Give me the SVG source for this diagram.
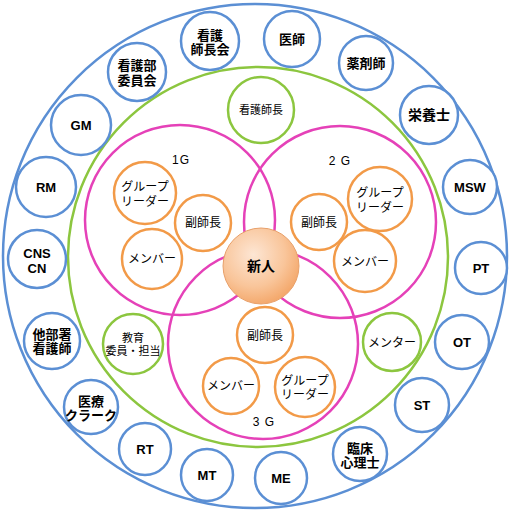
<svg xmlns="http://www.w3.org/2000/svg" width="512" height="512" viewBox="0 0 512 512">
<defs>
<radialGradient id="g" cx="0.4" cy="0.35" r="0.7">
<stop offset="0" stop-color="#FDE6D4"/>
<stop offset="0.6" stop-color="#F9C59A"/>
<stop offset="1" stop-color="#F3A465"/>
</radialGradient>
</defs>
<style>
text{font-family:"Liberation Sans","Noto Sans CJK JP",sans-serif;text-anchor:middle;fill:#000}
.b circle{fill:#fff;stroke:#5B8FD4;stroke-width:2.5}
.b text{font-weight:bold;font-size:13px}
.o circle{fill:#fff;stroke:#F29A48;stroke-width:2.5}
.o text{font-size:12px}
.gr circle{fill:#fff;stroke:#8CC63F;stroke-width:2.5}
.gr text{font-size:11px}
.ring{fill:none;stroke-width:2.5}
.lbl{font-size:12px;letter-spacing:1px}
</style>
<g id="rings">
<circle class="ring" cx="255" cy="256" r="252" stroke="#5B8FD4"/>
<circle class="ring" cx="258" cy="257" r="190" stroke="#8CC63F"/>
<circle class="ring" cx="180" cy="220" r="95" stroke="#E541B8"/>
<circle class="ring" cx="340" cy="222" r="96" stroke="#E541B8"/>
<circle class="ring" cx="263" cy="344" r="95" stroke="#E541B8"/>
</g>
<g id="labels">
<text class="lbl" x="181" y="164">1G</text>
<text class="lbl" x="340" y="165">2 G</text>
<text class="lbl" x="264" y="426">3 G</text>
</g>
<g id="connectors"></g>
<g class="b">
<g id="n-kangobu"><circle cx="137" cy="72" r="29"/><text x="137" y="70">看護部</text><text x="137" y="85">委員会</text></g>
<g id="n-shichokai"><circle cx="210" cy="41" r="29"/><text x="210" y="40">看護</text><text x="210" y="54">師長会</text></g>
<g id="n-ishi"><circle cx="292" cy="39" r="28"/><text x="292" y="44">医師</text></g>
<g id="n-yakuzai"><circle cx="366" cy="63" r="27"/><text x="366" y="68">薬剤師</text></g>
<g id="n-eiyo"><circle cx="429" cy="115" r="29"/><text x="429" y="120" style="font-size:14px">栄養士</text></g>
<g id="n-msw"><circle cx="470" cy="187" r="27"/><text x="470" y="192">MSW</text></g>
<g id="n-pt"><circle cx="481" cy="268" r="26"/><text x="481" y="273">PT</text></g>
<g id="n-ot"><circle cx="462" cy="342" r="27"/><text x="462" y="347">OT</text></g>
<g id="n-st"><circle cx="422" cy="405" r="27"/><text x="422" y="410">ST</text></g>
<g id="n-rinsho"><circle cx="360" cy="454" r="27"/><text x="360" y="453">臨床</text><text x="360" y="467">心理士</text></g>
<g id="n-me"><circle cx="281" cy="478" r="26"/><text x="281" y="483">ME</text></g>
<g id="n-mt"><circle cx="207" cy="475" r="26"/><text x="207" y="480">MT</text></g>
<g id="n-rt"><circle cx="145" cy="449" r="26"/><text x="145" y="454">RT</text></g>
<g id="n-clerk"><circle cx="91" cy="407" r="27"/><text x="91" y="406">医療</text><text x="91" y="420">クラーク</text></g>
<g id="n-tabusho"><circle cx="52" cy="341" r="28"/><text x="52" y="339">他部署</text><text x="52" y="353">看護師</text></g>
<g id="n-cns"><circle cx="37" cy="259" r="29"/><text x="37" y="258">CNS</text><text x="37" y="273">CN</text></g>
<g id="n-rm"><circle cx="46" cy="187" r="30"/><text x="46" y="192">RM</text></g>
<g id="n-gm"><circle cx="81" cy="125" r="30"/><text x="81" y="130">GM</text></g>
</g>
<g class="gr">
<g id="n-shicho"><circle cx="261" cy="110" r="33"/><text x="261" y="114">看護師長</text></g>
<g id="n-kyoiku"><circle cx="133" cy="344" r="30"/><text x="133" y="342">教育</text><text x="133" y="355">委員・担当</text></g>
<g id="n-mentor"><circle cx="392" cy="342" r="29"/><text x="392" y="347" style="font-size:12px">メンター</text></g>
</g>
<g class="o">
<g id="n-1g-leader"><circle cx="145" cy="193" r="31"/><text x="145" y="191">グループ</text><text x="145" y="206">リーダー</text></g>
<g id="n-1g-fuku"><circle cx="203" cy="223" r="28"/><text x="203" y="227">副師長</text></g>
<g id="n-1g-member"><circle cx="152" cy="259" r="30"/><text x="152" y="263">メンバー</text></g>
<g id="n-2g-leader"><circle cx="380" cy="199" r="32"/><text x="380" y="197">グループ</text><text x="380" y="212">リーダー</text></g>
<g id="n-2g-fuku"><circle cx="319" cy="222" r="28"/><text x="319" y="227">副師長</text></g>
<g id="n-2g-member"><circle cx="365" cy="261" r="31"/><text x="365" y="266">メンバー</text></g>
<g id="n-3g-fuku"><circle cx="265" cy="335" r="28"/><text x="265" y="340">副師長</text></g>
<g id="n-3g-member"><circle cx="231" cy="386" r="28"/><text x="231" y="390">メンバー</text></g>
<g id="n-3g-leader"><circle cx="305" cy="387" r="30"/><text x="305" y="385">グループ</text><text x="305" y="399">リーダー</text></g>
</g>
<g id="n-shinjin">
<circle cx="261" cy="266" r="38" fill="url(#g)" stroke="#E8A06A" stroke-width="1"/>
<text x="261" y="271" style="font-size:14px;font-weight:bold">新人</text>
</g>
</svg>
